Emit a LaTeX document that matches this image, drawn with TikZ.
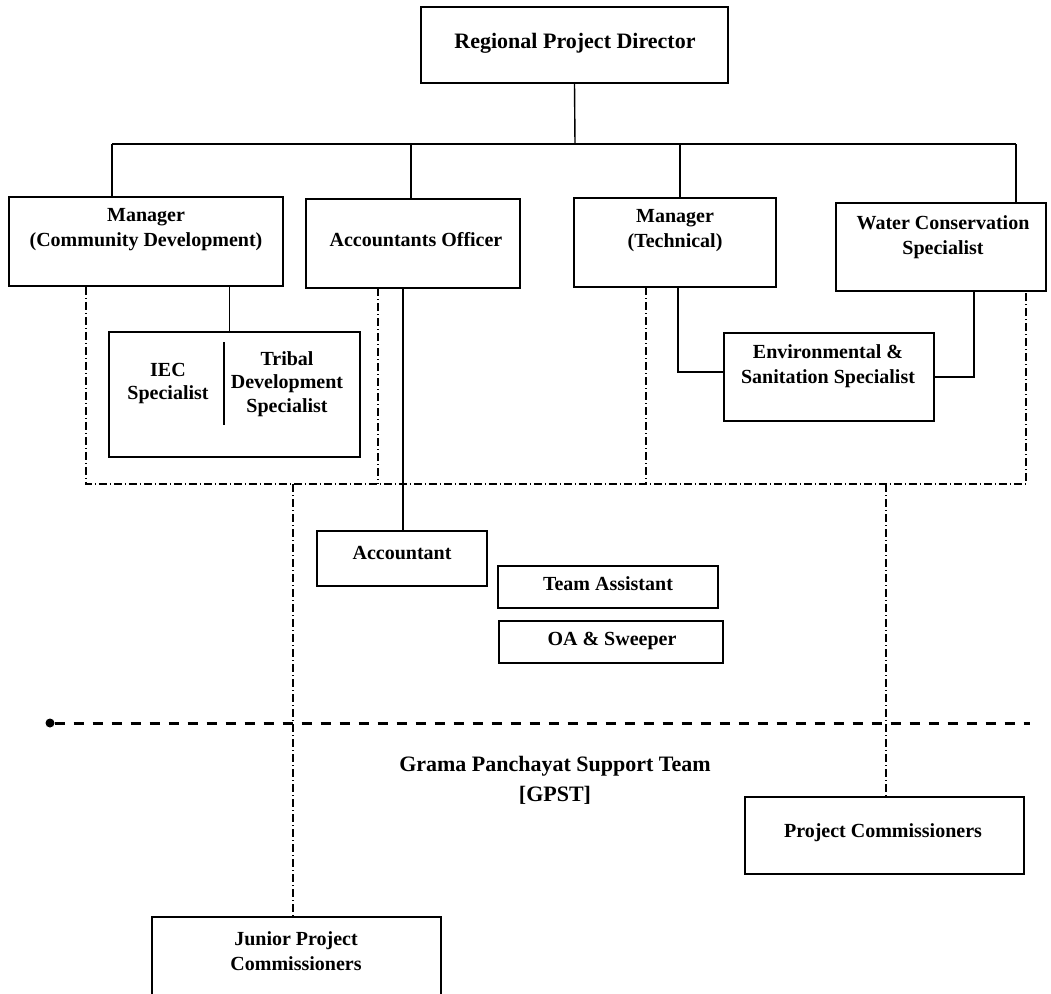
\documentclass[tikz,border=0pt]{standalone}
\usepackage{fontspec}
\setmainfont{Liberation Serif}
\begin{document}
\begin{tikzpicture}[x=1pt, y=-1pt,
    box/.style={draw, line width=1.6pt, inner sep=0pt},
    txt/.style={align=center, inner sep=0pt, font=\fontsize{20}{25}\selectfont\bfseries},
    link/.style={line width=1.4pt},
    dashdot/.style={line width=1.1pt, dash pattern=on 8pt off 3pt on 1pt off 3pt},
    gpst/.style={line width=3pt, dash pattern=on 10pt off 9pt}]
	\clip (0,0) rectangle (1051,993);
	\fill[white] (0,0) rectangle (1051,993);

	% boxes
	\node [box, minimum width=307pt, minimum height=76pt] (rpd) at (574.5,45) {};
	\node [box, minimum width=274pt, minimum height=89pt] (mcd) at (146,241.5) {};
	\node [box, minimum width=214pt, minimum height=89pt] (aco) at (413,243.5) {};
	\node [box, minimum width=202pt, minimum height=89pt] (mtc) at (675,242.5) {};
	\node [box, minimum width=210pt, minimum height=88pt] (wcs) at (941,247) {};
	\node [box, minimum width=251pt, minimum height=125pt] (iec) at (234.5,394.5) {};
	\node [box, minimum width=210pt, minimum height=88pt] (env) at (829,377) {};
	\node [box, minimum width=170pt, minimum height=55pt] (acc) at (402,558.5) {};
	\node [box, minimum width=220pt, minimum height=42pt] (tas) at (608,587) {};
	\node [box, minimum width=224pt, minimum height=42pt] (oas) at (611,642) {};
	\node [box, minimum width=279pt, minimum height=77pt] (pco) at (884.5,835.5) {};
	\node [box, minimum width=289pt, minimum height=100pt] (jpc) at (296.5,967) {};

	% texts
	\node [txt, font=\fontsize{22}{26}\selectfont\bfseries] (rpdt) at (575,43) {Regional Project Director};
	\node [txt] (mcdt) at (146,230) {Manager\\(Community Development)};
	\node [txt] (acot) at (416,240) {Accountants Officer};
	\node [txt] (mtct) at (675,231) {Manager\\(Technical)};
	\node [txt] (wcst) at (943,237) {Water Conservation\\Specialist};
	\node [txt, font=\fontsize{20}{23}\selectfont\bfseries] (iect) at (168,384) {IEC\\Specialist};
	\node [txt, font=\fontsize{20}{23.5}\selectfont\bfseries] (tdst) at (287,384) {Tribal\\Development\\Specialist};
	\node [txt] (envt) at (828,366) {Environmental \&\\Sanitation Specialist};
	\node [txt] (acct) at (402,553) {Accountant};
	\node [txt] (tast) at (608,584) {Team Assistant};
	\node [txt] (oast) at (612,641) {OA \& Sweeper};
	\node [txt] (pcot) at (883,833) {Project Commissioners};
	\node [txt] (jpct) at (296,951) {Junior Project\\Commissioners};
	\node [txt, font=\fontsize{22}{30}\selectfont\bfseries] (gpstt) at (555,780) {Grama Panchayat Support Team\\{}[GPST]};

	% divider in IEC box
	\draw [link] (224,342) -- (224,425);

	% solid links
	\coordinate (bus) at (575,144);
	\coordinate (busL) at (112,144);
	\coordinate (busR) at (1016,144);
	\draw [link] (rpd.south) -- (bus);
	\draw [link] (busL) -- (busR);
	\draw [link] (busL) -- (busL |- mcd.north);
	\draw [link] ([xshift=-2pt]aco.north |- bus) -- ([xshift=-2pt]aco.north);
	\draw [link] ([xshift=5pt]mtc.north |- bus) -- ([xshift=5pt]mtc.north);
	\draw [link] (busR) -- (busR |- wcs.north);
	\draw [link] ([xshift=-5pt]iec.north |- mcd.south) -- ([xshift=-5pt]iec.north);
	\draw [link] ([xshift=1pt]acc.north |- aco.south) -- ([xshift=1pt]acc.north);
	\draw [link] ([xshift=3pt]mtc.south) |- ([yshift=5pt]env.west);
	\draw [link] ([xshift=33pt]wcs.south) |- (env.east);

	% dash-dot groups
	\coordinate (ddL) at (86,484);
	\coordinate (ddR) at (1026,484);
	\draw [dashdot] (ddL |- mcd.south) -- (ddL) -- (ddR) -- (ddR |- wcs.south);
	\draw [dashdot] (378,288) -- (378,484);
	\draw [dashdot] (646,287) -- (646,484);
	\draw [dashdot] ([xshift=-3.5pt]jpc.north |- ddL) -- ([xshift=-3.5pt]jpc.north);
	\draw [dashdot] ([xshift=1.5pt]pco.north |- ddL) -- ([xshift=1.5pt]pco.north);

	% GPST line
	\coordinate (gpstR) at (1030,723);
	\node [circle, fill=black, inner sep=0pt, minimum size=9pt] (gpstdot) at (50,723) {};
	\draw [gpst] (gpstdot.east) -- (gpstR);
\end{tikzpicture}
\end{document}
